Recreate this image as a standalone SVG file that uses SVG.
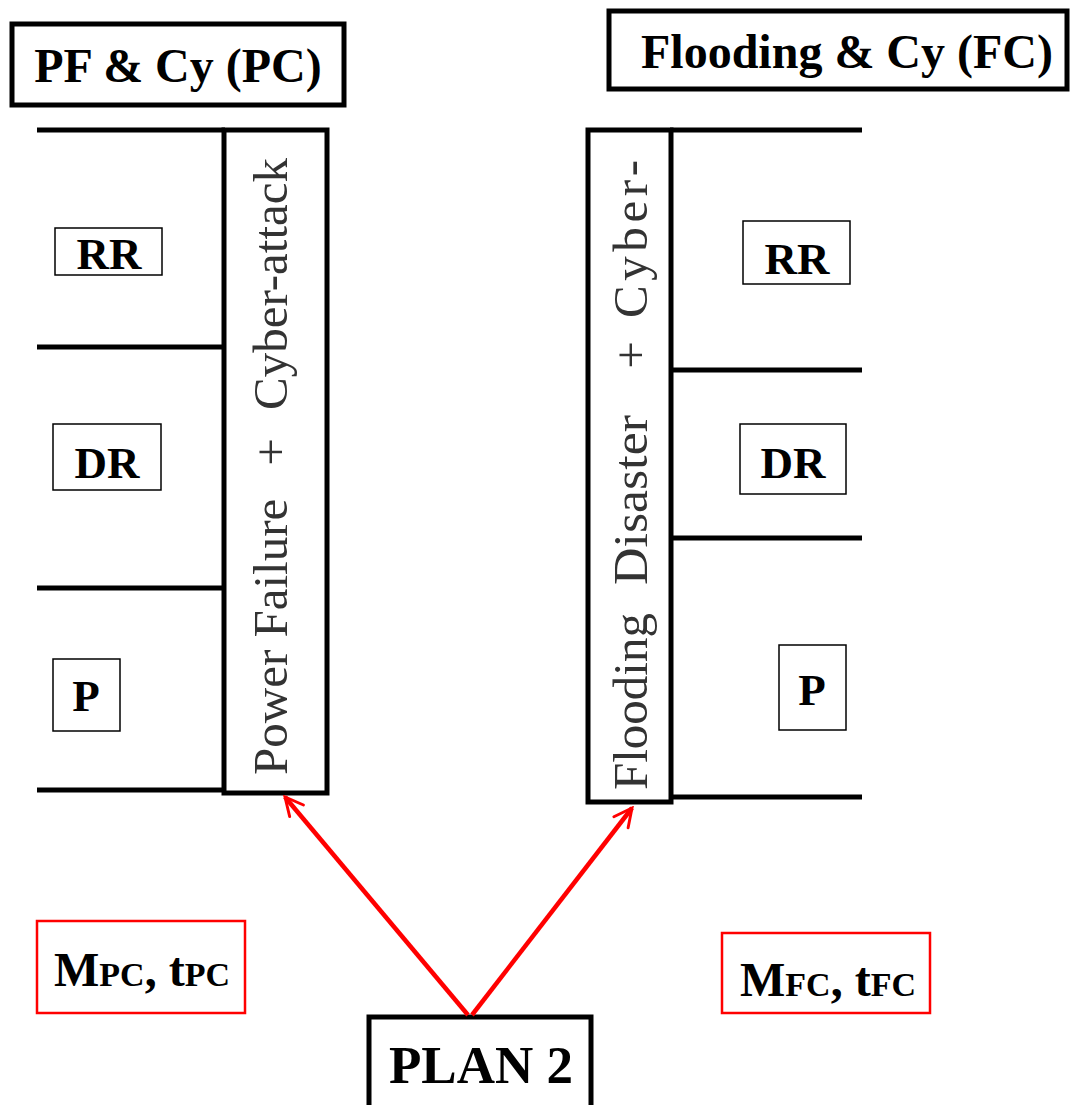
<svg xmlns="http://www.w3.org/2000/svg" width="1073" height="1105" viewBox="0 0 1073 1105">
<style>
.thick{fill:#fff;stroke:#000;stroke-width:5}
.thin{fill:#fff;stroke:#000;stroke-width:1.5}
.red{fill:#fff;stroke:#f00;stroke-width:2.5}
.ln{stroke:#000;stroke-width:5;fill:none}
.b{font-family:"Liberation Serif","Times New Roman",serif;font-weight:bold;fill:#000}
.v{font-family:"Liberation Serif","Times New Roman",serif;fill:#333;font-size:49px}
.arr{stroke:#f00;stroke-width:4.5;fill:none}
</style>
<defs>
<marker id="ah" viewBox="0 0 10 10" refX="9" refY="5" markerWidth="5" markerHeight="5" orient="auto" markerUnits="strokeWidth">
<path d="M1,1 L9,5 L1,9" fill="none" stroke="#f00" stroke-width="1.3" stroke-linecap="round"/>
</marker>
</defs>
<rect width="1073" height="1105" fill="#fff"/>
<g id="lines-left">
<line class="ln" x1="37" y1="130" x2="225" y2="130"/>
<line class="ln" x1="37" y1="347" x2="225" y2="347"/>
<line class="ln" x1="37" y1="588" x2="225" y2="588"/>
<line class="ln" x1="37" y1="790" x2="225" y2="790"/>
</g>
<g id="lines-right">
<line class="ln" x1="670" y1="130" x2="862" y2="130"/>
<line class="ln" x1="670" y1="370" x2="862" y2="370"/>
<line class="ln" x1="670" y1="538" x2="862" y2="538"/>
<line class="ln" x1="670" y1="797" x2="862" y2="797"/>
</g>
<g id="pc-title">
<rect class="thick" x="12" y="24" width="332" height="81"/>
<text class="b" x="178" y="82" font-size="48" text-anchor="middle">PF &amp; Cy (PC)</text>
</g>
<g id="fc-title">
<rect class="thick" x="609" y="11" width="458" height="78"/>
<text class="b" x="847" y="68" font-size="48" text-anchor="middle">Flooding &amp; Cy (FC)</text>
</g>
<g id="pc-bar">
<rect class="thick" x="224" y="130" width="103" height="663"/>
<g transform="translate(287,0) rotate(-90)">
<text class="v" x="-775" y="0">Power Failure</text>
<text class="v" x="-452" y="0" text-anchor="middle">+</text>
<text class="v" x="-410" y="0">Cyber-attack</text>
</g>
</g>
<g id="fc-bar">
<rect class="thick" x="588" y="130" width="83" height="672"/>
<g transform="translate(647,0) rotate(-90)">
<text class="v" x="-790" y="0">Flooding</text>
<text class="v" x="-585" y="0" textLength="170" lengthAdjust="spacingAndGlyphs">Disaster</text>
<text class="v" x="-355" y="0" text-anchor="middle">+</text>
<text class="v" x="-318" y="0" textLength="158" lengthAdjust="spacing">Cyber-</text>
</g>
</g>
<g id="pc-rr"><rect class="thin" x="55" y="228" width="107" height="47"/><text class="b" x="109" y="269" font-size="45" text-anchor="middle">RR</text></g>
<g id="pc-dr"><rect class="thin" x="53" y="424" width="108" height="66"/><text class="b" x="107" y="478" font-size="45" text-anchor="middle">DR</text></g>
<g id="pc-p"><rect class="thin" x="53" y="659" width="67" height="72"/><text class="b" x="86" y="711" font-size="45" text-anchor="middle">P</text></g>
<g id="fc-rr"><rect class="thin" x="743" y="221" width="107" height="63"/><text class="b" x="797" y="274" font-size="45" text-anchor="middle">RR</text></g>
<g id="fc-dr"><rect class="thin" x="740" y="424" width="106" height="70"/><text class="b" x="793" y="478" font-size="45" text-anchor="middle">DR</text></g>
<g id="fc-p"><rect class="thin" x="779" y="645" width="67" height="85"/><text class="b" x="812" y="705" font-size="45" text-anchor="middle">P</text></g>
<g id="m-pc"><rect class="red" x="37" y="921" width="208" height="92"/><text class="b" x="54" y="986" font-size="48">M<tspan font-size="34">PC</tspan>, t<tspan font-size="34">PC</tspan></text></g>
<g id="m-fc"><rect class="red" x="722" y="933" width="208" height="80"/><text class="b" x="740" y="996" font-size="48">M<tspan font-size="34">FC</tspan>, t<tspan font-size="34">FC</tspan></text></g>
<g id="plan2"><rect class="thick" x="369" y="1017" width="222" height="95"/><text class="b" x="481" y="1083" font-size="53" text-anchor="middle">PLAN 2</text></g>
<g id="connectors">
<line class="arr" x1="468" y1="1015" x2="285" y2="797" marker-end="url(#ah)"/>
<line class="arr" x1="472" y1="1015" x2="632" y2="808" marker-end="url(#ah)"/>
</g>
</svg>
